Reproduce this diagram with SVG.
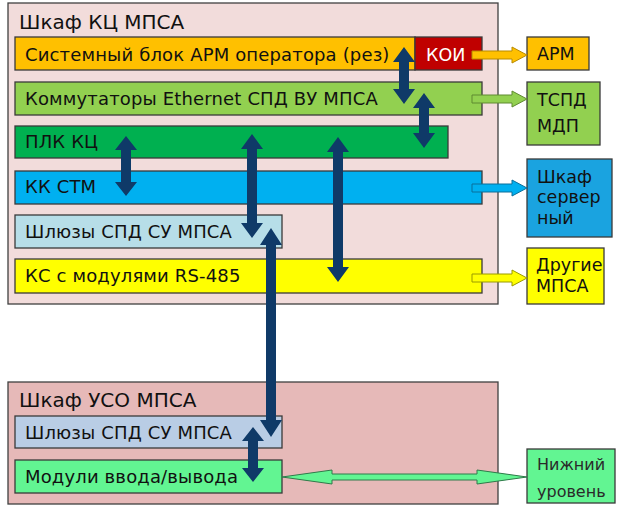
<svg xmlns="http://www.w3.org/2000/svg" width="621" height="511" viewBox="0 0 621 511">
<style>
text{font-family:"DejaVu Sans","Liberation Sans",Arial,sans-serif;fill:#111}
.t{font-size:20px}
.b{font-size:18px;letter-spacing:0.15px}
.r{font-size:17.5px}
.s{font-size:16px;fill:#2a2a2a}
.box{stroke:#3a3a3a;stroke-width:1.3}
.panel{stroke:#404040;stroke-width:1.3}
.dbl{fill:#0f3a68}
</style>
<rect width="621" height="511" fill="#ffffff"/>
<g id="panel-kc">
<rect class="panel" x="8" y="3" width="490" height="301" fill="#f2dcdb"/>
<text class="t" x="19" y="29">Шкаф КЦ МПСА</text>
</g>
<g id="panel-uso">
<rect class="panel" x="8" y="382" width="490" height="122" fill="#e6b9b8"/>
<text class="t" x="19" y="407">Шкаф УСО МПСА</text>
</g>
<g id="sysblock">
<rect class="box" x="15" y="37" width="400" height="33" fill="#ffc000"/>
<text class="b" x="25" y="61">Системный блок АРМ оператора (рез)</text>
</g>
<g id="koi">
<rect class="box" x="415" y="37" width="67" height="33" fill="#c00000"/>
<text class="r" x="426" y="61" style="fill:#ffffff">КОИ</text>
</g>
<g id="switches">
<rect class="box" x="15" y="82" width="467" height="33" fill="#92d050"/>
<text class="b" x="25" y="105">Коммутаторы Ethernet СПД ВУ МПСА</text>
</g>
<g id="plc">
<rect class="box" x="15" y="126" width="433" height="32" fill="#00b050"/>
<text class="b" x="25" y="148">ПЛК КЦ</text>
</g>
<g id="kkstm">
<rect class="box" x="15" y="171" width="467" height="33" fill="#00b0f0"/>
<text class="b" x="25" y="193">КК СТМ</text>
</g>
<g id="gw-top">
<rect class="box" x="15" y="215" width="267" height="33" fill="#b7dee8"/>
<text class="b" x="25" y="238">Шлюзы СПД СУ МПСА</text>
</g>
<g id="ks">
<rect class="box" x="15" y="259" width="467" height="34" fill="#ffff00"/>
<text class="b" x="25" y="282">КС с модулями RS-485</text>
</g>
<g id="arm">
<rect class="box" x="527" y="37" width="62" height="33" fill="#ffc000"/>
<text class="r" x="537" y="60">АРМ</text>
</g>
<g id="tspd">
<rect class="box" x="527" y="82" width="73" height="63" fill="#92d050"/>
<text class="r" x="537" y="106">ТСПД</text>
<text class="r" x="537" y="132">МДП</text>
</g>
<g id="server">
<rect class="box" x="527" y="159" width="85" height="78" fill="#1aa3e0"/>
<text class="r" x="537" y="183">Шкаф</text>
<text class="r" x="537" y="203">сервер</text>
<text class="r" x="537" y="224">ный</text>
</g>
<g id="other">
<rect class="box" x="527" y="248" width="77" height="56" fill="#ffff00"/>
<text class="r" x="536" y="271">Другие</text>
<text class="r" x="536" y="292">МПСА</text>
</g>
<g id="gw-bottom">
<rect class="box" x="15" y="416" width="267" height="32" fill="#b9cde5"/>
<text class="b" x="25" y="439">Шлюзы СПД СУ МПСА</text>
</g>
<g id="io">
<rect class="box" x="15" y="460" width="267" height="33" fill="#62f592"/>
<text class="b" x="25" y="483">Модули ввода/вывода</text>
</g>
<g id="lower">
<rect class="box" x="527" y="449" width="88" height="54" fill="#62f592"/>
<text class="s" x="537" y="470">Нижний</text>
<text class="s" x="537" y="497">уровень</text>
</g>
<g id="connectors">
<polygon class="dbl" points="404,47 415,62 409,62 409,89 415,89 404,104 393,89 399,89 399,62 393,62"/>
<polygon class="dbl" points="424,93 435,108 429,108 429,133 435,133 424,148 413,133 419,133 419,108 413,108"/>
<polygon class="dbl" points="126,136 137,150 131,150 131,182 137,182 126,196 115,182 121,182 121,150 115,150"/>
<polygon class="dbl" points="252,134 263,149 257,149 257,223 263,223 252,238 241,223 247,223 247,149 241,149"/>
<polygon class="dbl" points="338,137 349,152 343,152 343,267 349,267 338,282 327,267 333,267 333,152 327,152"/>
<polygon class="dbl" points="271,228 282,245 276,245 276,420 282,420 271,437 260,420 266,420 266,245 260,245"/>
<polygon class="dbl" points="253,427 264,441 258,441 258,468 264,468 253,482 242,468 248,468 248,441 242,441"/>
<polygon points="472,51 512,51 512,47 527,55 512,63 512,59 472,59" fill="#ffc000" stroke="#b88a00" stroke-width="1"/>
<polygon points="472,95 512,95 512,91 527,99 512,107 512,103 472,103" fill="#92d050" stroke="#5f8a30" stroke-width="1"/>
<polygon points="472,184 512,184 512,180 527,188 512,196 512,192 472,192" fill="#00b0f0" stroke="#0a6f9a" stroke-width="1"/>
<polygon points="472,274 512,274 512,270 527,278 512,286 512,282 472,282" fill="#ffff00" stroke="#9a9a00" stroke-width="1"/>
<polygon points="282,477 332,470 332,474 477,474 477,470 527,477 477,484 477,480 332,480 332,484" fill="#62f592" stroke="#2f7a4a" stroke-width="1"/>
</g>
</svg>
